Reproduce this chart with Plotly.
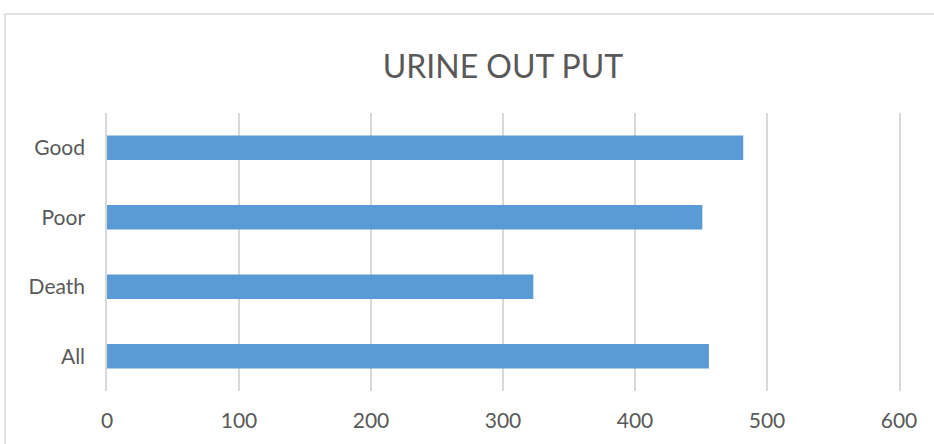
import plotly.graph_objects as go

categories = ["All", "Death", "Poor", "Good"]
values = [456, 323, 451, 482]
x_ticks = [0, 100, 200, 300, 400, 500, 600]

W, H = 934, 444
L, R, T, B = 107, 35, 113, 53
pw, ph = W - L - R, H - T - B

def px_x(p):
    return (p - L) / pw

def px_y(p):
    return (H - B - p) / ph

fig = go.Figure(go.Bar(
    y=categories, x=values, orientation="h",
    marker=dict(color="#5b9bd5", line=dict(width=0)),
))

fig.update_layout(
    width=W, height=H,
    margin=dict(l=L, r=R, t=T, b=B),
    paper_bgcolor="white", plot_bgcolor="white",
    bargap=0.65,
    showlegend=False,
    font=dict(family="Lato, Open Sans, sans-serif", color="#595959", size=21),
    title=dict(text="URINE OUT PUT", x=0.5385, xanchor="center",
               y=1 - 67 / H, yanchor="middle",
               font=dict(size=32, color="#595959")),
    xaxis=dict(range=[0, 600], tickvals=x_ticks, showgrid=True,
               gridcolor="#d9d9d9", gridwidth=1.5, zeroline=False,
               showline=False, ticks="", ticklabelstandoff=15,
               automargin=False, tickfont=dict(size=21)),
    yaxis=dict(showgrid=False, showline=True, mirror=True,
               linecolor="#d9d9d9", linewidth=1.5, ticks="",
               ticklabelstandoff=16, automargin=False,
               tickfont=dict(size=21)),
    shapes=[dict(type="rect", xref="paper", yref="paper",
                 x0=px_x(5), x1=px_x(945), y0=px_y(455), y1=px_y(14),
                 line=dict(color="#d9d9d9", width=1.5), layer="below")],
)

fig.write_html("out.html")
